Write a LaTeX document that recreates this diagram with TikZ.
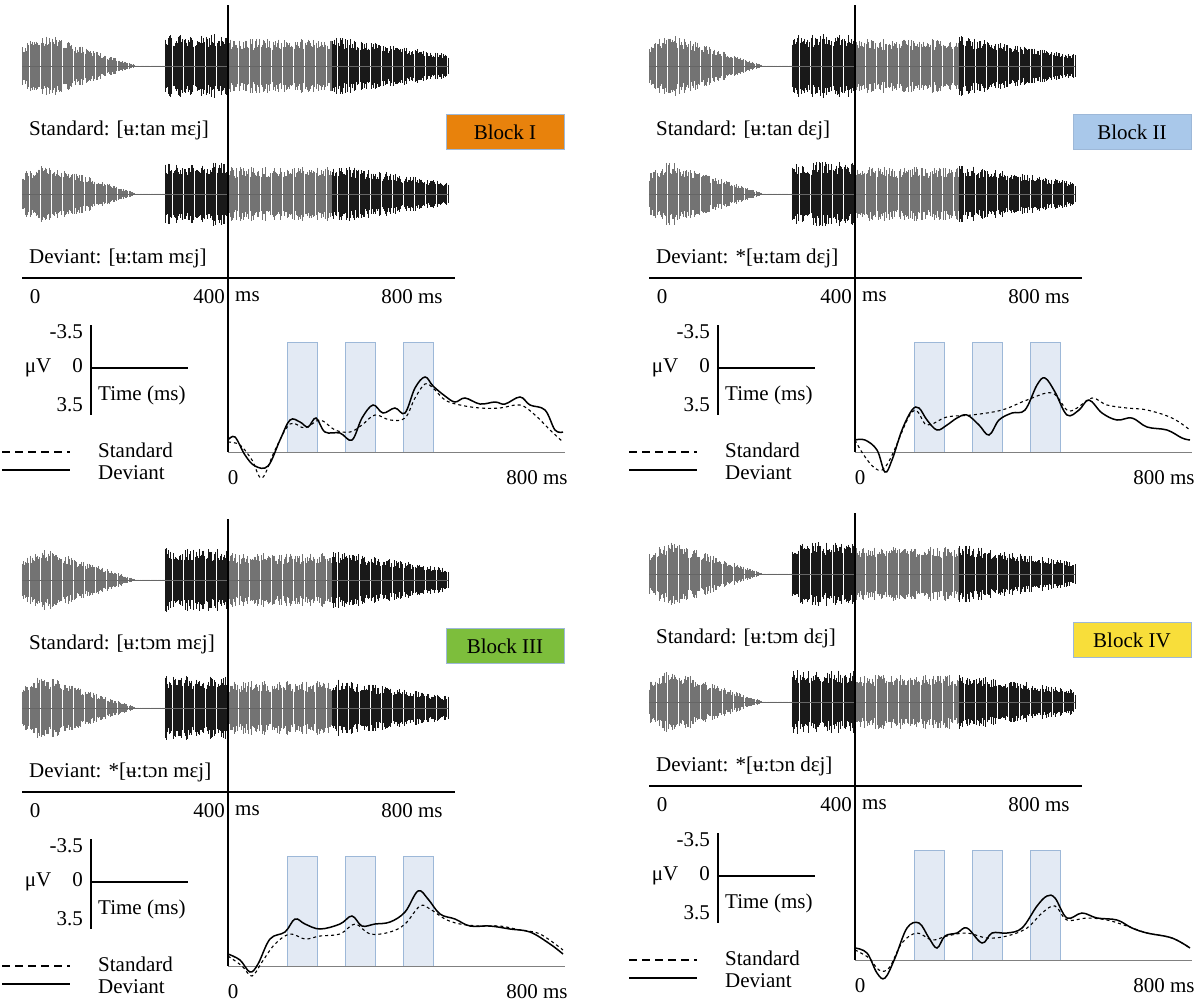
\documentclass[tikz,border=0pt]{standalone}
\usepackage{fontspec}
\setmainfont{Liberation Serif}
\definecolor{blockone}{HTML}{E8820C}
\definecolor{blocktwo}{HTML}{A9C8EA}
\definecolor{blockthree}{HTML}{7DBE3C}
\definecolor{blockfour}{HTML}{F8DE3A}
\definecolor{winfill}{HTML}{E3EAF4}
\definecolor{winedge}{HTML}{9DB8D8}
\tikzset{
  lbl/.style={font=\fontsize{21}{24}\selectfont, inner sep=1pt},
  blockbox/.style={draw=winedge, minimum width=118pt, minimum height=35pt, font=\fontsize{21}{24}\selectfont},
  axisline/.style={line width=1.4pt},
  win/.style={fill=winfill, draw=winedge, line width=0.8pt},
  erp/.style={line width=1.5pt, smooth, tension=0.6},
}
% waveform: center y, start x
\newcommand{\wave}[2]{%
  \foreach \u in {0,1.1,...,426}{%
    \pgfmathsetmacro\amp{(\u<18 ? 20+13*\u/18 : (\u<113 ? 33*(113-\u)/95+1 : (\u<143 ? 0.4 : (\u<206 ? 32 : (\u<310 ? 27 : 30-18*(\u-310)/116)))))*(0.6+0.4*rnd)}
    \pgfmathsetmacro\shade{(\u>143 && \u<206) || \u>310 ? 90 : 55}
    \draw[black!\shade, line width=0.4pt] (#2+\u,#1-\amp) -- (#2+\u,#1+\amp);
  }%
  \draw[black!60, line width=0.4pt] (#2,#1) -- (#2+426,#1);
}
% panel: dx, dy, standard, deviant, block, colour, deviant curve, standard curve
\newcommand{\panel}[9]{%
\begin{scope}[shift={(#1,#2)}]
  \wave{66}{22}
  \wave{194}{22}
  \node[lbl, anchor=west] (std#9) at (28,130) {#3};
  \node[lbl, anchor=west] (dev#9) at (28,258) {#4};
  \node[blockbox, fill=#6] (blk#9) at (505,132) {#5};
  \draw[axisline] (228,5) -- (228,452);
  \draw[axisline] (22,278) -- (455,278);
  \node[lbl] (zero#9) at (35,297) {0};
  \node[lbl, anchor=east] (four#9) at (226,297) {400};
  \node[lbl, anchor=west] (ms#9) at (234,297) {ms};
  \node[lbl] (eight#9) at (412,297) {800 ms};
  % scale
  \draw[line width=1.1pt] (91,325) -- (91,415);
  \draw[line width=1.1pt] (91,368) -- (188,368);
  \node[lbl, anchor=east] (top#9) at (84,332) {-3.5};
  \node[lbl, anchor=east] (mid#9) at (84,368) {μV\quad 0};
  \node[lbl, anchor=east] (bot#9) at (84,405) {3.5};
  \node[lbl, anchor=west] (time#9) at (97,395) {Time (ms)};
  % legend
  \draw[line width=1.1pt, dash pattern=on 8pt off 5pt] (2,452) -- (70,452);
  \draw[line width=1.4pt] (2,470) -- (70,470);
  \node[lbl, anchor=west] (lstd#9) at (97,450) {Standard};
  \node[lbl, anchor=west] (ldev#9) at (97,473) {Deviant};
  % ERP
  \foreach \s in {287,345,403}{\draw[win] (\s,342) rectangle ++(30,110);}
  \draw[gray, line width=0.8pt] (228,452) -- (565,452);
  \draw[erp, line width=1.1pt, dashed] plot coordinates {#8};
  \draw[erp] plot coordinates {#7};
  \node[lbl] (ezero#9) at (233,478) {0};
  \node[lbl] (eeight#9) at (537,478) {800 ms};
\end{scope}}
\begin{document}
\begin{tikzpicture}[x=1pt, y=-1pt]
\useasboundingbox[fill=white] (0,0) rectangle (1200,1005);
\pgfmathsetseed{7}
\panel{0}{0}{Standard: [ʉ:tan mɛj]}{Deviant: [ʉ:tam mɛj]}{Block I}{blockone}
  {(228,440) (235,437) (245,455) (255,466) (268,466) (280,440) (290,420) (300,422) (308,427) (316,418) (325,432) (340,433) (352,440) (362,418) (373,405) (383,413) (395,408) (405,413) (415,388) (425,377) (433,386) (445,396) (455,402) (465,398) (480,404) (495,402) (505,404) (520,397) (530,405) (545,410) (555,430) (563,432)}
  {(228,442) (240,445) (252,460) (262,478) (275,450) (290,424) (305,428) (320,420) (335,430) (350,432) (362,425) (375,415) (390,420) (405,418) (415,398) (425,384) (433,388) (445,400) (460,405) (480,408) (500,408) (520,405) (535,415) (550,430) (563,442)}{a}
\panel{627}{0}{Standard: [ʉ:tan dɛj]}{Deviant: *[ʉ:tam dɛj]}{Block II}{blocktwo}
  {(228,440) (238,440) (250,450) (258,472) (265,460) (275,430) (285,410) (292,408) (300,420) (310,430) (320,425) (330,418) (340,415) (352,425) (362,435) (372,420) (385,413) (398,410) (410,385) (418,378) (428,392) (440,415) (452,410) (462,400) (475,413) (490,420) (505,418) (520,427) (540,430) (555,438) (563,440)}
  {(228,440) (255,470) (285,412) (300,425) (320,417) (345,415) (375,410) (400,400) (425,393) (440,410) (450,408) (465,398) (480,405) (500,408) (520,410) (545,418) (563,430)}{b}
\panel{0}{514}{Standard: [ʉ:tɔm mɛj]}{Deviant: *[ʉ:tɔn mɛj]}{Block III}{blockthree}
  {(228,440) (240,446) (250,458) (258,450) (270,425) (285,418) (295,405) (305,410) (320,415) (340,410) (352,402) (362,412) (375,410) (390,408) (405,398) (418,377) (428,385) (440,400) (455,405) (470,412) (490,412) (510,415) (530,418) (550,430) (563,440)}
  {(228,442) (242,452) (252,462) (262,448) (275,430) (290,420) (305,425) (320,422) (340,420) (355,410) (370,420) (390,418) (405,410) (420,392) (430,395) (445,405) (460,410) (480,412) (500,412) (520,416) (540,420) (563,436)}{c}
\panel{627}{508}{Standard: [ʉ:tɔm dɛj]}{Deviant: *[ʉ:tɔn dɛj]}{Block IV}{blockfour}
  {(228,440) (240,445) (250,465) (258,470) (268,450) (280,420) (292,415) (302,430) (310,440) (318,428) (330,425) (340,420) (355,435) (365,425) (380,425) (395,420) (410,398) (420,388) (428,390) (440,410) (455,405) (470,410) (490,412) (505,420) (520,425) (545,430) (563,440)}
  {(228,442) (242,450) (252,462) (262,460) (275,435) (290,425) (305,432) (320,428) (340,425) (360,430) (380,428) (400,420) (415,405) (428,398) (440,412) (460,410) (480,412) (500,418) (520,425) (545,430) (563,440)}{d}
\end{tikzpicture}
\end{document}
